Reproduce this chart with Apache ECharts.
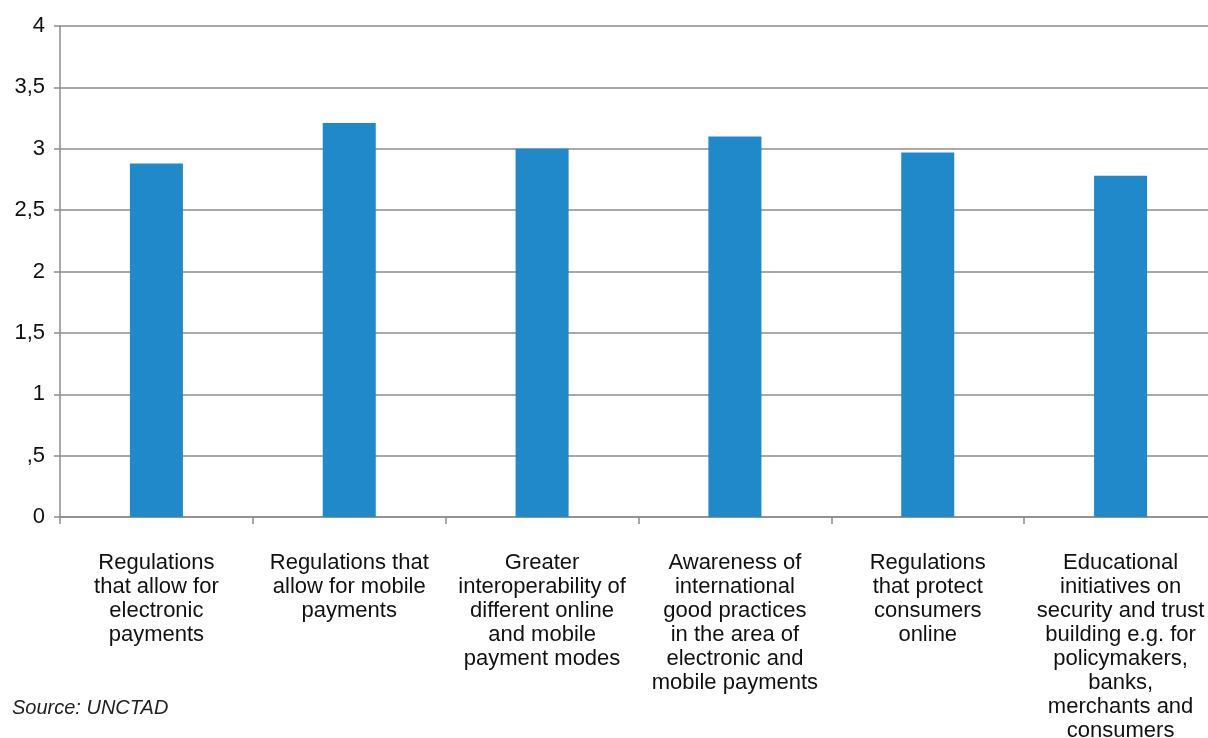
<!DOCTYPE html>
<html>
<head>
<meta charset="utf-8">
<title>Measures to promote online and mobile payments</title>
<script src="https://cdn.jsdelivr.net/npm/echarts@6/dist/echarts.min.js"></script>
<style>
  html, body { margin: 0; padding: 0; background: #ffffff; overflow: hidden; }
  #chart { width: 1208px; height: 738px; }
</style>
</head>
<body>
<div id="chart"></div>
<script>
// Categories (line breaks follow the printed wrapping)
const categories = [
  'Regulations\nthat allow for\nelectronic\npayments',
  'Regulations that\nallow for mobile\npayments',
  'Greater\ninteroperability of\ndifferent online\nand mobile\npayment modes',
  'Awareness of\ninternational\ngood practices\nin the area of\nelectronic and\nmobile payments',
  'Regulations\nthat protect\nconsumers\nonline',
  'Educational\ninitiatives on\nsecurity and trust\nbuilding e.g. for\npolicymakers,\nbanks,\nmerchants and\nconsumers'
];

// Average score per measure
const scores = [2.88, 3.21, 3.0, 3.1, 2.97, 2.78];

// Value-axis tick labels, one per 0.5 step from 0 to 4
const yTickLabels = ['0', ',5', '1', '1,5', '2', '2,5', '3', '3,5', '4'];

const sourceNote = 'Source: UNCTAD';

const FONT = '"Liberation Sans", Arial, Helvetica, sans-serif';
const GRID_GRAY = '#8c8c8c';

const chart = echarts.init(document.getElementById('chart'), null, { renderer: 'canvas' });

chart.setOption({
  backgroundColor: '#ffffff',
  animation: false,
  grid: {
    left: 60,
    top: 26,
    width: 1157,   // plot runs a little past the right edge of the canvas
    height: 491,
    containLabel: false,
    outerBoundsMode: 'none'
  },
  graphic: [{
    type: 'text',
    left: 12,
    top: 698,
    style: {
      text: sourceNote,
      font: 'italic 20px ' + FONT,
      fill: '#222222'
    }
  }],
  xAxis: {
    type: 'category',
    data: categories,
    boundaryGap: true,
    axisLine: { show: true, lineStyle: { color: GRID_GRAY, width: 1.5 } },
    axisTick: { show: true, alignWithLabel: false, length: 7, lineStyle: { color: GRID_GRAY, width: 1.5 } },
    axisLabel: {
      interval: 0,
      margin: 34,
      color: '#111111',
      fontFamily: FONT,
      fontSize: 22,
      lineHeight: 24,
      align: 'center'
    },
    splitLine: { show: false }
  },
  yAxis: {
    type: 'value',
    min: 0,
    max: 4,
    interval: 0.5,
    axisLine: { show: true, lineStyle: { color: GRID_GRAY, width: 1.5 } },
    axisTick: { show: true, length: 6, lineStyle: { color: GRID_GRAY, width: 1.5 } },
    axisLabel: {
      margin: 15,
      color: '#111111',
      fontFamily: FONT,
      fontSize: 22,
      formatter: function (v) {
        const i = Math.round(v / 0.5);
        return yTickLabels[i] !== undefined ? yTickLabels[i] : String(v);
      }
    },
    splitLine: { show: true, lineStyle: { color: GRID_GRAY, width: 1.5 } }
  },
  series: [{
    type: 'bar',
    data: scores,
    barWidth: '27.5%',
    itemStyle: { color: '#2089ca' },
    z: 3
  }]
});
</script>
</body>
</html>
